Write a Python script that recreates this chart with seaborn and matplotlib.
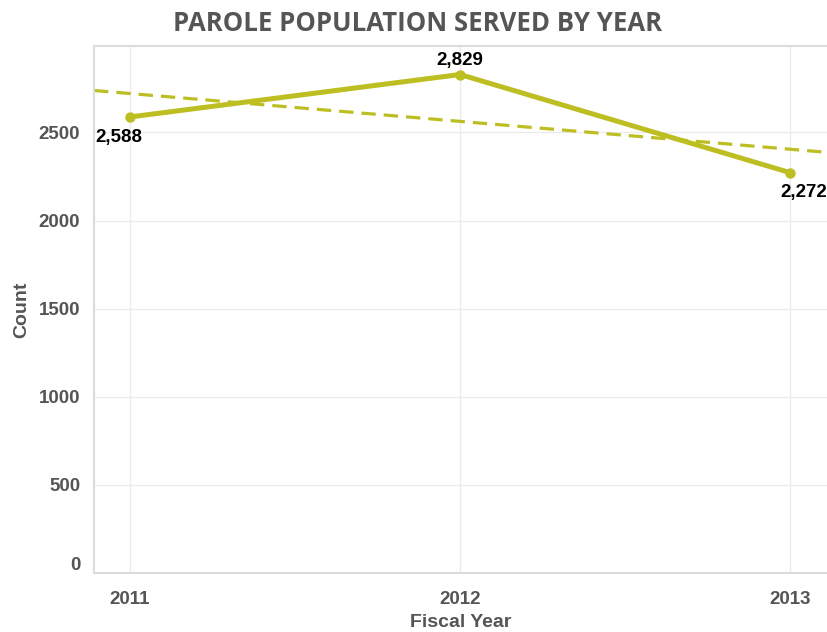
import numpy as np
import pandas as pd
import matplotlib
matplotlib.use('Agg')
import matplotlib.pyplot as plt
import seaborn as sns
from matplotlib.ticker import MultipleLocator
from matplotlib.transforms import ScaledTranslation

# data
years = [2011, 2012, 2013]
counts = [2588, 2829, 2272]
labels = ['2,588', '2,829', '2,272']
y_ticks = [0, 500, 1000, 1500, 2000, 2500]

df = pd.DataFrame({'Fiscal Year': years, 'Count': counts})

sns.set_style('white')
plt.rcParams['font.family'] = ['Liberation Sans', 'DejaVu Sans']

olive = '#BDBE22'
gray_txt = '#555555'
grid_c = '#EBEBEB'

fig = plt.figure(figsize=(8.27, 6.32), dpi=100)
ax = fig.add_axes([0.1137, 0.0934, 0.8863, 0.8336])
ax.set_xlim(2010.891, 2013.112)
ax.set_ylim(0, 2990)

# trend line
sns.regplot(data=df, x='Fiscal Year', y='Count', scatter=False, ci=None, truncate=False,
            color=olive, line_kws=dict(lw=2.3, ls=(0, (4.5, 2.5))), ax=ax)
# main line
sns.lineplot(data=df, x='Fiscal Year', y='Count', color=olive, lw=3.6, marker='o',
             markersize=7.5, markeredgewidth=0, ax=ax)
ax.set_xlim(2010.891, 2013.112)
ax.set_ylim(0, 2990)

# data labels
offsets = [(-8, -9, 'top'), (0, 4, 'bottom'), (10, -8, 'top')]
for x, y, lab, (dx, dy, va) in zip(years, counts, labels, offsets):
    ax.annotate(lab, (x, y), xytext=(dx, dy), textcoords='offset points',
                ha='center', va=va, fontsize=13.5, fontweight='bold', color='black',
                annotation_clip=False)

ax.set_xticks(years)
ax.set_xticklabels([str(y) for y in years])
ax.set_yticks(y_ticks)
ax.xaxis.set_minor_locator(MultipleLocator(1 / 12))
ax.grid(True, which='major', color=grid_c, lw=1)
ax.set_axisbelow(True)

for s in ['top', 'left', 'bottom']:
    ax.spines[s].set_color('#DCDCDC')
    ax.spines[s].set_linewidth(1.5)
ax.spines['right'].set_visible(False)

ax.tick_params(axis='both', which='major', length=6, width=1, color='#D0D0D0',
               labelsize=13.5, labelcolor=gray_txt, pad=7)
ax.tick_params(axis='x', which='minor', length=2.5, width=1, color='#BBBBBB')
ax.tick_params(axis='y', which='major', length=6, pad=4)
for t in ax.get_xticklabels() + ax.get_yticklabels():
    t.set_fontweight('bold')
# the zero label sits a little above its tick
zero_lab = ax.get_yticklabels()[0]
zero_lab.set_transform(zero_lab.get_transform() + ScaledTranslation(0, 7 / 72, fig.dpi_scale_trans))

ax.set_xlabel('Fiscal Year', fontsize=14, fontweight='bold', color=gray_txt, labelpad=4)
ax.set_ylabel('Count', fontsize=14, fontweight='bold', color=gray_txt, labelpad=6)

fig.text(0.505, 0.963, 'PAROLE POPULATION SERVED BY YEAR', ha='center', va='center',
         fontsize=18.5, fontweight='bold', color=gray_txt, family='Open Sans')

fig.savefig('out.png', dpi=100)
